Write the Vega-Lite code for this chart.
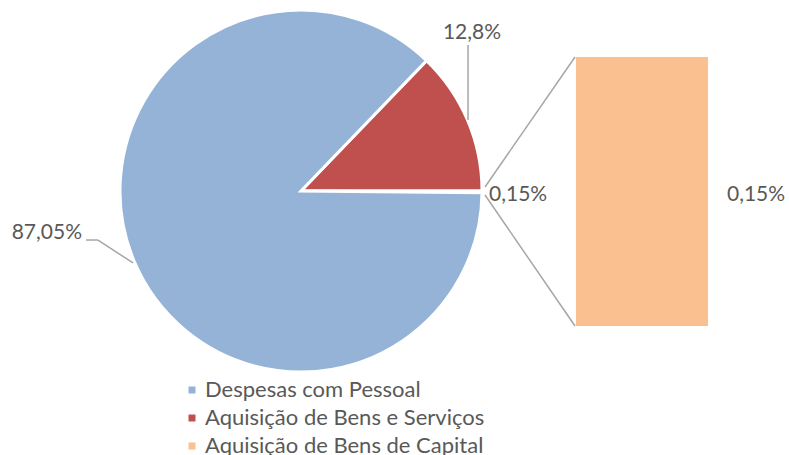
{
  "$schema": "https://vega.github.io/schema/vega-lite/v6.json",
  "width": 789,
  "height": 455,
  "autosize": {"type": "fit", "contains": "padding"},
  "padding": 0,
  "background": "white",
  "config": {
    "view": {"stroke": null},
    "font": "Lato",
    "text": {"font": "Lato", "fontSize": 21, "color": "#595959"},
    "legend": {"labelFont": "Lato"}
  },
  "datasets": {
    "slices": [
      {"categoria": "Aquisição de Bens e Serviços", "valor": 12.8, "rotulo": "12,8%", "ordem": 1},
      {"categoria": "Aquisição de Bens de Capital", "valor": 0.15, "rotulo": "0,15%", "ordem": 2},
      {"categoria": "Despesas com Pessoal", "valor": 87.05, "rotulo": "87,05%", "ordem": 3}
    ]
  },
  "data": {"name": "slices"},
  "layer": [
    {
      "mark": {"type": "arc", "outerRadius": 181, "stroke": "white", "strokeWidth": 3},
      "encoding": {
        "x": {"datum": 38.15, "type": "quantitative", "scale": {"domain": [0, 100]}, "axis": null},
        "y": {"datum": 41.98, "type": "quantitative", "scale": {"domain": [0, 100], "reverse": true}, "axis": null},
        "theta": {"field": "valor", "type": "quantitative", "stack": true, "scale": {"range": [0.7666, 7.0498]}},
        "order": {"field": "ordem", "type": "quantitative"},
        "color": {
          "field": "categoria",
          "type": "nominal",
          "scale": {
            "domain": ["Despesas com Pessoal", "Aquisição de Bens e Serviços", "Aquisição de Bens de Capital"],
            "range": ["#95B3D7", "#C0504D", "#FAC090"]
          },
          "legend": {
            "title": null,
            "orient": "none",
            "legendX": 181,
            "legendY": 379,
            "symbolType": "square",
            "symbolSize": 49,
            "symbolStrokeWidth": 0,
            "labelFontSize": 22,
            "labelColor": "#595959",
            "labelOffset": 2,
            "rowPadding": 6,
            "labelLimit": 400
          }
        }
      }
    },
    {
      "transform": [{"filter": "datum.ordem == 2"}],
      "mark": {"type": "rect"},
      "encoding": {
        "x": {"datum": 73.0, "type": "quantitative"},
        "x2": {"datum": 89.73},
        "y": {"datum": 12.53, "type": "quantitative"},
        "y2": {"datum": 71.65},
        "color": {"field": "categoria", "type": "nominal"}
      }
    },
    {
      "transform": [{"filter": "datum.ordem == 2"}],
      "mark": {"type": "rule", "color": "#A6A6A6", "strokeWidth": 1.5},
      "encoding": {
        "x": {"datum": 61.47, "type": "quantitative"},
        "y": {"datum": 41.10, "type": "quantitative"},
        "x2": {"datum": 72.88},
        "y2": {"datum": 12.53}
      }
    },
    {
      "transform": [{"filter": "datum.ordem == 2"}],
      "mark": {"type": "rule", "color": "#A6A6A6", "strokeWidth": 1.5},
      "encoding": {
        "x": {"datum": 61.47, "type": "quantitative"},
        "y": {"datum": 42.86, "type": "quantitative"},
        "x2": {"datum": 72.88},
        "y2": {"datum": 71.65}
      }
    },
    {
      "transform": [{"filter": "datum.ordem == 1"}],
      "mark": {"type": "rule", "color": "#A6A6A6", "strokeWidth": 1.5},
      "encoding": {
        "x": {"datum": 59.32, "type": "quantitative"},
        "y": {"datum": 9.89, "type": "quantitative"},
        "y2": {"datum": 26.37}
      }
    },
    {
      "transform": [{"filter": "datum.ordem == 3"}],
      "mark": {"type": "rule", "color": "#A6A6A6", "strokeWidth": 1.5},
      "encoding": {
        "x": {"datum": 10.9, "type": "quantitative"},
        "x2": {"datum": 12.42},
        "y": {"datum": 52.75, "type": "quantitative"}
      }
    },
    {
      "transform": [{"filter": "datum.ordem == 3"}],
      "mark": {"type": "rule", "color": "#A6A6A6", "strokeWidth": 1.5},
      "encoding": {
        "x": {"datum": 12.42, "type": "quantitative"},
        "y": {"datum": 52.75, "type": "quantitative"},
        "x2": {"datum": 16.86},
        "y2": {"datum": 57.8}
      }
    },
    {
      "transform": [{"filter": "datum.ordem == 1"}],
      "mark": {"type": "text", "align": "center", "baseline": "alphabetic"},
      "encoding": {
        "x": {"datum": 59.82, "type": "quantitative"},
        "y": {"datum": 8.57, "type": "quantitative"},
        "text": {"field": "rotulo"}
      }
    },
    {
      "transform": [{"filter": "datum.ordem == 3"}],
      "mark": {"type": "text", "align": "right", "baseline": "alphabetic"},
      "encoding": {
        "x": {"datum": 10.39, "type": "quantitative"},
        "y": {"datum": 52.53, "type": "quantitative"},
        "text": {"field": "rotulo"}
      }
    },
    {
      "transform": [{"filter": "datum.ordem == 2"}],
      "mark": {"type": "text", "align": "left", "baseline": "alphabetic"},
      "encoding": {
        "x": {"datum": 61.98, "type": "quantitative"},
        "y": {"datum": 44.18, "type": "quantitative"},
        "text": {"field": "rotulo"}
      }
    },
    {
      "transform": [{"filter": "datum.ordem == 2"}],
      "mark": {"type": "text", "align": "left", "baseline": "alphabetic"},
      "encoding": {
        "x": {"datum": 92.14, "type": "quantitative"},
        "y": {"datum": 44.18, "type": "quantitative"},
        "text": {"field": "rotulo"}
      }
    }
  ]
}
